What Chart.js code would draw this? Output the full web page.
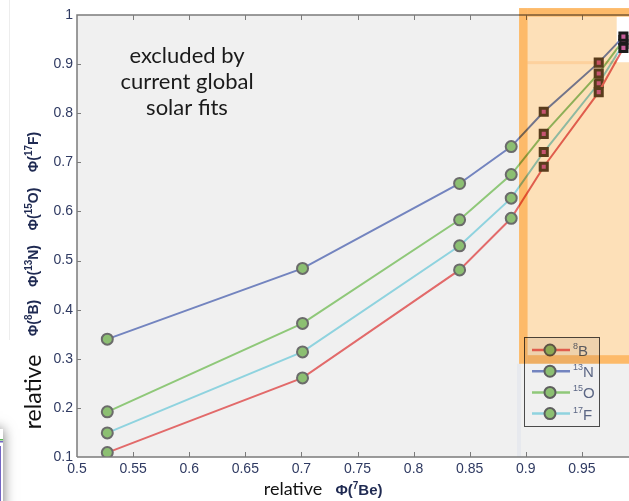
<!DOCTYPE html>
<html>
<head>
<meta charset="utf-8">
<script src="https://cdn.jsdelivr.net/npm/chart.js@4.4.1/dist/chart.umd.min.js"></script>
<style>
  html, body { margin: 0; padding: 0; background: #fff; overflow: hidden; }
  #wrap { width: 629px; height: 501px; overflow: hidden; }
  canvas { display: block; }
</style>
</head>
<body>
<div id="wrap"><canvas id="flux" width="650" height="501"></canvas></div>
<script>
// relative 7Be flux on x, relative CNO / 8B fluxes on y
const phiBe7 = [0.527, 0.701, 0.841, 0.887, 0.916, 0.965, 0.987];
const phiB8  = [0.109, 0.261, 0.481, 0.586, 0.691, 0.843, 0.933];
const phiN13 = [0.340, 0.484, 0.657, 0.732, 0.803, 0.903, 0.956];
const phiO15 = [0.192, 0.372, 0.583, 0.675, 0.758, 0.881, 0.949];
const phiF17 = [0.149, 0.314, 0.530, 0.627, 0.721, 0.861, 0.941];

const massNumbers = ['8', '13', '15', '17'];
const elements = ['B', 'N', 'O', 'F'];
const lineColors = ['#e26a6a', '#7384bf', '#8fc879', '#8fd3df'];

const xTicks = [0.5, 0.55, 0.6, 0.65, 0.7, 0.75, 0.8, 0.85, 0.9, 0.95, 1];
const yTicks = [0.1, 0.2, 0.3, 0.4, 0.5, 0.6, 0.7, 0.8, 0.9, 1];

// region excluded by the global solar fits (data units)
const fitRegion = { xMin: 0.894, yMin: 0.29, yMax: 1.014 };
const clearPatch = { xMin: 0.981, yMin: 0.904 };

const seriesValues = [phiB8, phiN13, phiO15, phiF17];
const datasets = seriesValues.map((vals, i) => ({
  label: massNumbers[i] + elements[i],
  data: phiBe7.map((xv, j) => ({ x: xv, y: vals[j] })),
  borderColor: lineColors[i],
  borderWidth: 2,
  tension: 0,
  pointStyle: c => c.raw.x >= fitRegion.xMin ? 'rect' : 'circle',
  pointRadius: c => c.raw.x >= fitRegion.xMin ? 5 : 5.5,
  pointBorderWidth: c => c.raw.x >= fitRegion.xMin ? 3 : 2,
  pointBackgroundColor: c => c.raw.x >= fitRegion.xMin ? '#c8609c' : '#8cbf72',
  pointBorderColor: c => {
    if (c.raw.x >= clearPatch.xMin) return '#1c1c1c';
    return c.raw.x >= fitRegion.xMin ? '#5a4426' : '#6b6b6b';
  }
}));

function regionBox(chart) {
  const { x, y } = chart.scales;
  return {
    L: x.getPixelForValue(fitRegion.xMin),
    R: chart.width,
    T: y.getPixelForValue(fitRegion.yMax),
    B: y.getPixelForValue(fitRegion.yMin),
    PX: x.getPixelForValue(clearPatch.xMin),
    PY: y.getPixelForValue(clearPatch.yMin),
    band: 8.5
  };
}

function isoText(ctx, cx, cy, pre, sup, el, post, font, supFont) {
  ctx.font = font;
  const w1 = ctx.measureText(pre).width;
  const w3 = ctx.measureText(el + post).width;
  ctx.font = supFont;
  const w2 = ctx.measureText(sup).width;
  let xx = cx - (w1 + w2 + w3) / 2;
  ctx.textAlign = 'left';
  ctx.textBaseline = 'alphabetic';
  ctx.font = font;
  ctx.fillText(pre, xx, cy);
  xx += w1;
  ctx.font = supFont;
  ctx.fillText(sup, xx, cy - 6);
  xx += w2;
  ctx.font = font;
  ctx.fillText(el + post, xx, cy);
}

const framePlugin = {
  id: 'frame',
  beforeDraw(chart) {
    const { ctx, chartArea: a } = chart;
    const r = regionBox(chart);
    ctx.save();
    ctx.fillStyle = '#f0f0f0';
    ctx.fillRect(a.left, a.top, a.right - a.left, a.bottom - a.top);
    ctx.fillStyle = '#ffffff';
    ctx.fillRect(r.L, r.T, r.R - r.L, r.B - r.T);
    ctx.fillStyle = '#e7e9ee';
    ctx.fillRect(r.L - 2, r.B, 4, a.bottom - r.B);

    // faint page edge and pasted corner on the left
    ctx.fillStyle = '#ededed';
    ctx.fillRect(9, 0, 1, 340);
    ctx.shadowColor = 'rgba(0,0,0,0.55)';
    ctx.shadowBlur = 12;
    ctx.fillStyle = '#ffffff';
    ctx.fillRect(-40, 429, 43, 100);
    ctx.shadowBlur = 0;
    ctx.fillStyle = '#56b84e';
    ctx.fillRect(0, 439, 3, 1.5);
    ctx.fillStyle = '#7466c4';
    ctx.fillRect(0, 441, 3, 1.5);
    ctx.fillRect(0, 446, 1, 55);
    ctx.restore();
  },
  afterDatasetsDraw(chart) {
    const { ctx, chartArea: a, scales: { x, y } } = chart;
    const r = regionBox(chart);
    ctx.save();

    // axes and inward ticks
    ctx.strokeStyle = '#7b7b7b';
    ctx.lineWidth = 1.5;
    ctx.beginPath();
    ctx.moveTo(a.left, a.bottom); ctx.lineTo(a.left, a.top); ctx.lineTo(chart.width, a.top);
    ctx.moveTo(a.left, a.bottom); ctx.lineTo(chart.width, a.bottom);
    ctx.stroke();
    ctx.lineWidth = 1;
    ctx.beginPath();
    xTicks.slice(1).forEach(v => {
      const px = Math.round(x.getPixelForValue(v)) + 0.5;
      ctx.moveTo(px, a.bottom); ctx.lineTo(px, a.bottom - 5);
      ctx.moveTo(px, a.top); ctx.lineTo(px, a.top + 5);
    });
    yTicks.slice(1, -1).forEach(v => {
      const py = Math.round(y.getPixelForValue(v)) + 0.5;
      ctx.moveTo(a.left, py); ctx.lineTo(a.left + 4, py);
    });
    ctx.stroke();

    // legend
    const lg = { l: 524, t: 337, w: 75, h: 89 };
    ctx.fillStyle = '#f0f0f0';
    ctx.fillRect(lg.l, lg.t, lg.w, lg.h);
    ctx.strokeStyle = '#4a4a4a';
    ctx.lineWidth = 1;
    ctx.strokeRect(lg.l + 0.5, lg.t + 0.5, lg.w, lg.h);
    chart.data.datasets.forEach((ds, i) => {
      const cy = 350 + i * 21.2;
      ctx.strokeStyle = ds.borderColor;
      ctx.lineWidth = 2.5;
      ctx.beginPath(); ctx.moveTo(532, cy); ctx.lineTo(570, cy); ctx.stroke();
      ctx.fillStyle = '#8cbf72';
      ctx.strokeStyle = '#5e5e5e';
      ctx.lineWidth = 2;
      ctx.beginPath(); ctx.arc(550, cy, 5.5, 0, Math.PI * 2); ctx.fill(); ctx.stroke();
      ctx.fillStyle = '#5b6684';
      ctx.textAlign = 'left';
      ctx.textBaseline = 'alphabetic';
      ctx.font = '9px "Liberation Sans", Arial, sans-serif';
      ctx.fillText(massNumbers[i], 573, cy - 1);
      const sw = ctx.measureText(massNumbers[i]).width;
      ctx.font = '15px "Liberation Sans", Arial, sans-serif';
      ctx.fillText(elements[i], 573 + sw, cy + 6);
    });

    // excluded region, tinted over what lies beneath
    ctx.globalCompositeOperation = 'multiply';
    ctx.fillStyle = 'rgb(253,224,184)';
    ctx.beginPath();
    ctx.rect(r.L, r.T, r.R - r.L, r.B - r.T);
    ctx.rect(r.PX, r.T + r.band, r.R - r.PX, r.PY - r.T - r.band);
    ctx.fill('evenodd');
    ctx.fillStyle = 'rgb(255,212,146)';
    ctx.fillRect(r.L, r.T, r.band, r.B - r.T);
    ctx.fillRect(r.L + r.band, r.T, r.R - r.L - r.band, r.band);
    ctx.fillRect(r.L + r.band, r.B - r.band, r.R - r.L - r.band, r.band);
    ctx.fillStyle = 'rgb(255,238,218)';
    ctx.fillRect(r.L + r.band, r.PY - 1, r.PX - r.L - r.band, 3);
    ctx.globalCompositeOperation = 'source-over';

    // annotation
    ctx.fillStyle = '#1a1a1a';
    ctx.textAlign = 'center';
    ctx.textBaseline = 'middle';
    ctx.font = '22px Lato, "Open Sans", sans-serif';
    ['excluded by', 'current global', 'solar fits'].forEach((t, i) => ctx.fillText(t, 187, 56 + i * 26));

    // x title
    ctx.fillStyle = '#111';
    ctx.textBaseline = 'alphabetic';
    ctx.font = '18px Lato, "Open Sans", sans-serif';
    ctx.fillText('relative', 293, 495);
    ctx.fillStyle = '#1f2a52';
    isoText(ctx, 359, 495, 'Φ(', '7', 'Be', ')',
      'bold 15px "Liberation Sans", Arial, sans-serif', 'bold 10px "Liberation Sans", Arial, sans-serif');

    // y title, rotated
    ctx.save();
    ctx.translate(0, 0);
    ctx.rotate(-Math.PI / 2);
    ctx.fillStyle = '#111';
    ctx.textAlign = 'center';
    ctx.font = '23px Lato, "Open Sans", sans-serif';
    ctx.fillText('relative', -392, 41);
    ctx.fillStyle = '#1f2a52';
    const centers = [318, 266, 209, 152];
    massNumbers.forEach((m, i) => {
      isoText(ctx, -centers[i], 38, 'Φ(', m, elements[i], ')',
        'bold 14px "Liberation Sans", Arial, sans-serif', 'bold 10px "Liberation Sans", Arial, sans-serif');
    });
    ctx.restore();

    ctx.restore();
  }
};

const tickFont = { family: '"Liberation Sans", Arial, sans-serif', size: 14 };

new Chart(document.getElementById('flux'), {
  type: 'line',
  data: { datasets },
  options: {
    responsive: false,
    animation: false,
    events: [],
    layout: { padding: { top: 15, right: 12, left: 0, bottom: 0 } },
    plugins: { legend: { display: false }, tooltip: { enabled: false } },
    scales: {
      x: {
        type: 'linear', min: 0.5, max: 1,
        grid: { display: false, drawTicks: false },
        border: { display: false },
        afterBuildTicks: s => { s.ticks = xTicks.map(v => ({ value: v })); },
        afterFit: s => { s.height = 44; },
        ticks: { color: '#2f3a62', font: tickFont, padding: 4, maxRotation: 0, autoSkip: false, callback: v => String(v) }
      },
      y: {
        type: 'linear', min: 0.1, max: 1,
        grid: { display: false, drawTicks: false },
        border: { display: false },
        afterBuildTicks: s => { s.ticks = yTicks.map(v => ({ value: v })); },
        afterFit: s => { s.width = 77; },
        ticks: { color: '#2f3a62', font: tickFont, padding: 4, autoSkip: false, callback: v => String(v) }
      }
    }
  },
  plugins: [framePlugin]
});
</script>
</body>
</html>
